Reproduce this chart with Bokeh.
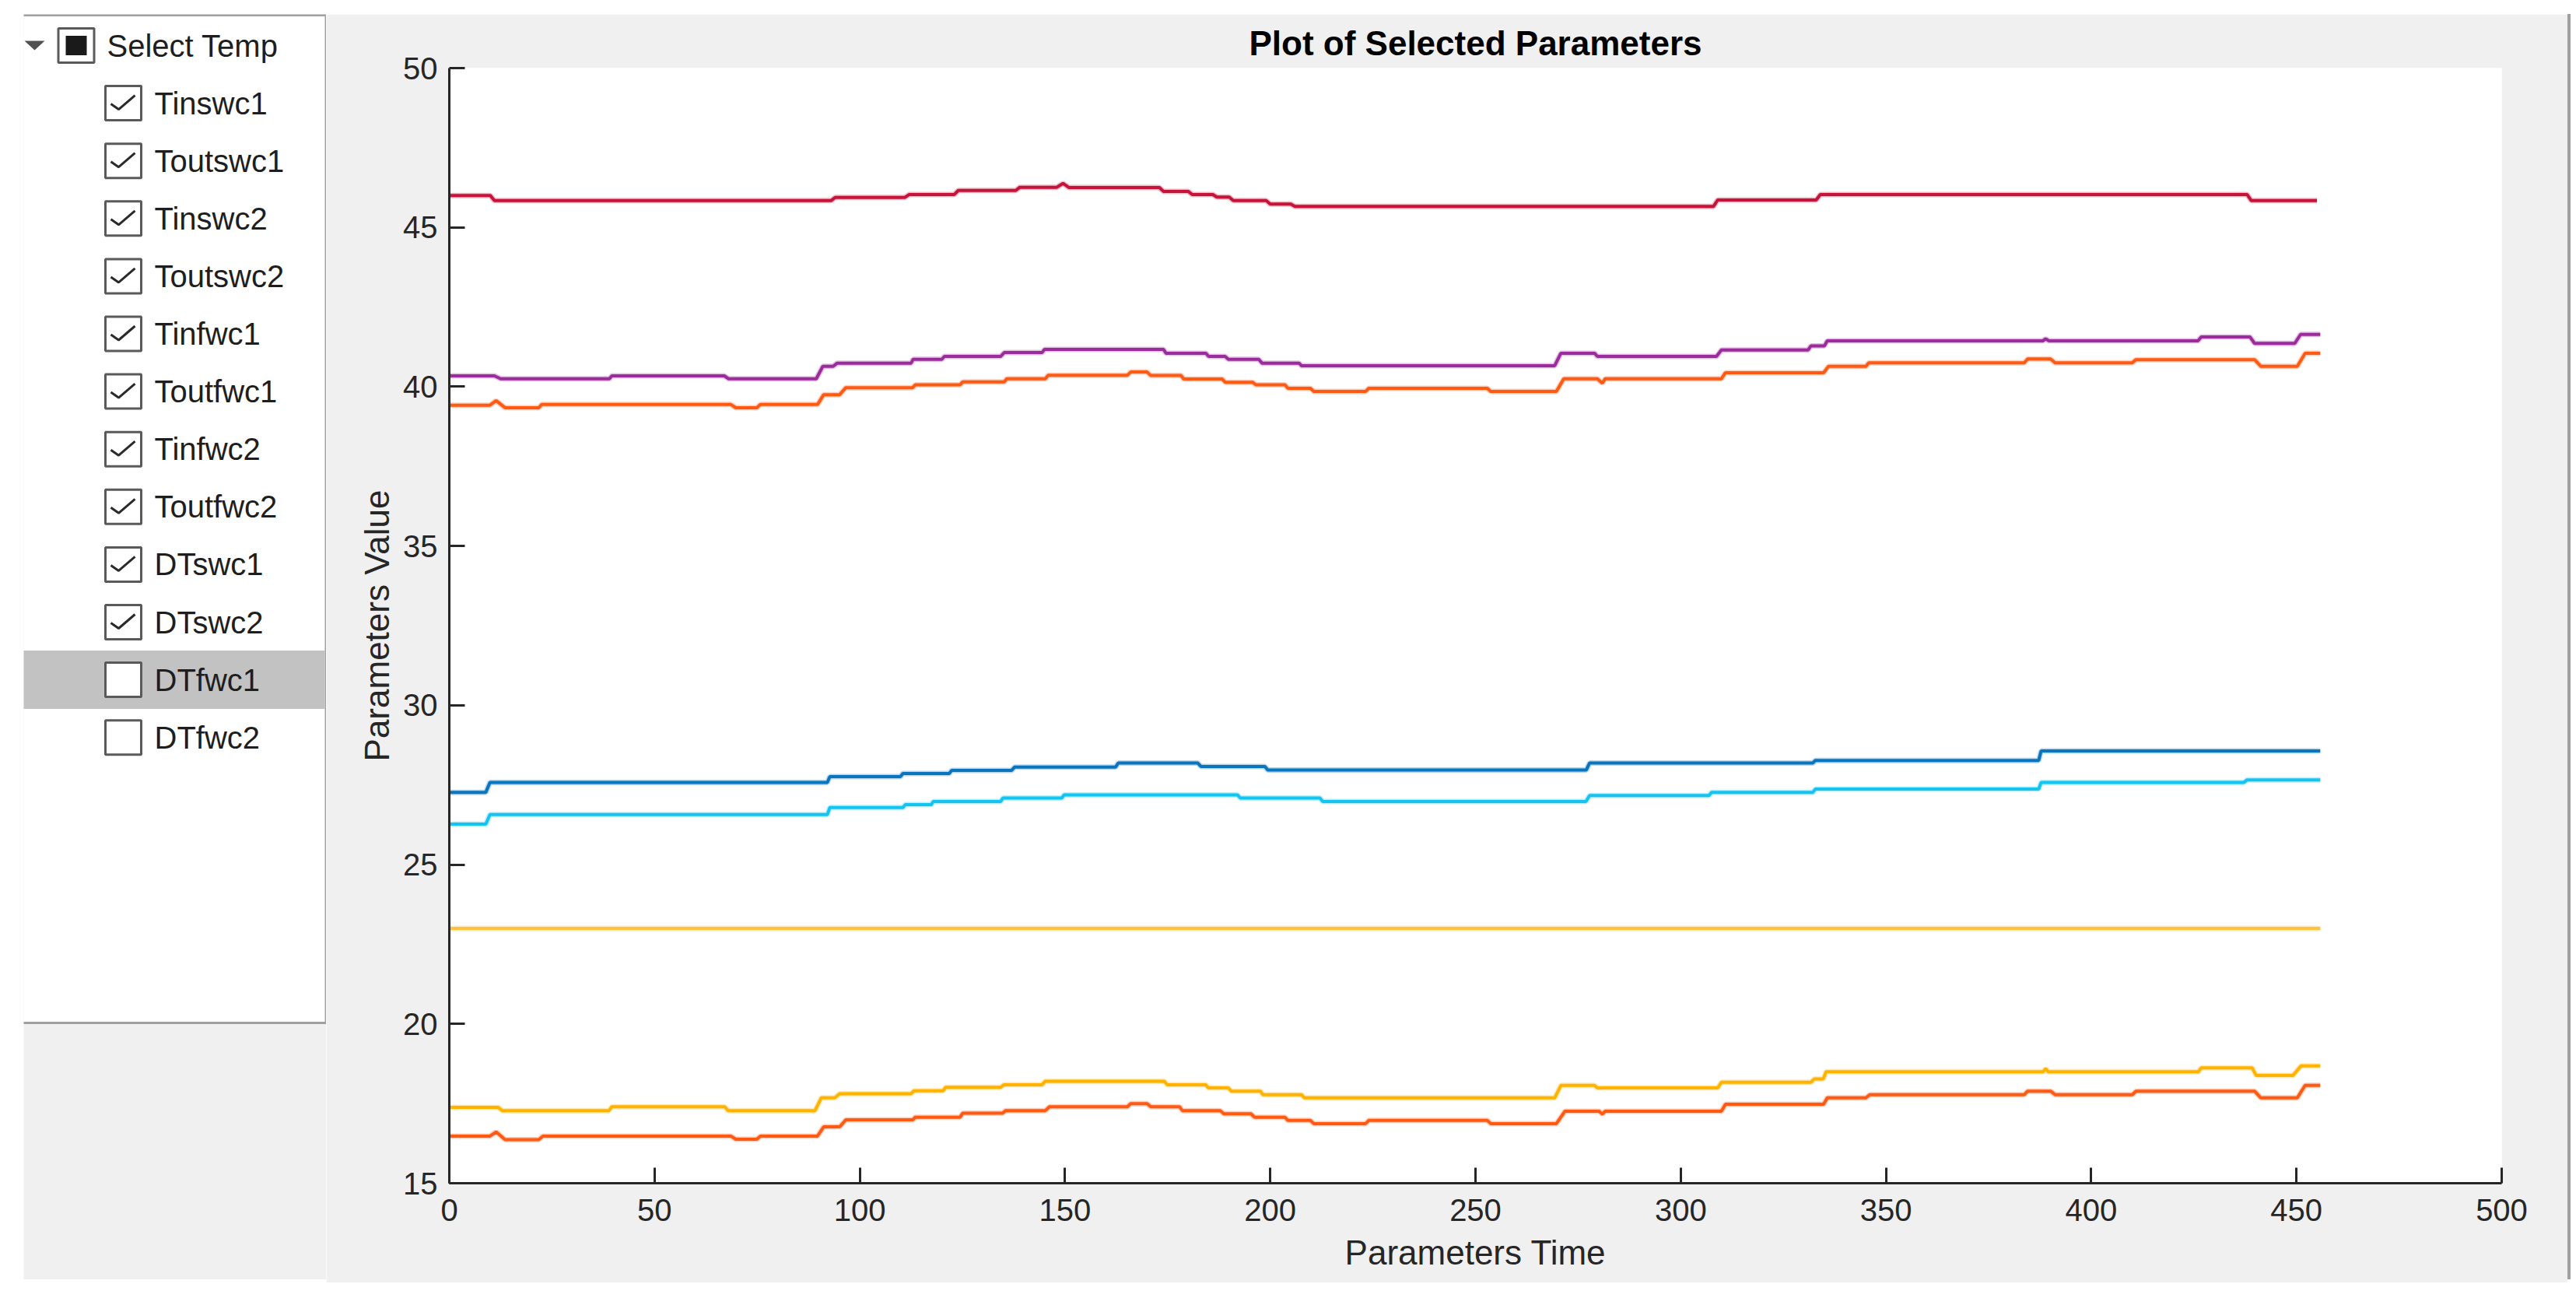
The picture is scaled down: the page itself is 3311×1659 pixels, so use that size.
from bokeh.plotting import figure
from bokeh.models import Range1d, FixedTicker, Spacer
from bokeh.layouts import row, column
from bokeh.embed import file_html
from bokeh.resources import INLINE
from bokeh.core.properties import value

# ---------------- data ----------------
TITLE = "Plot of Selected Parameters"
X_LABEL = "Parameters Time"
Y_LABEL = "Parameters Value"
X_TICKS = [0, 50, 100, 150, 200, 250, 300, 350, 400, 450, 500]
Y_TICKS = [15, 20, 25, 30, 35, 40, 45, 50]

PANEL_HEADER = "Select Temp"
PARAM_NAMES = ["Tinswc1", "Toutswc1", "Tinswc2", "Toutswc2", "Tinfwc1", "Toutfwc1",
               "Tinfwc2", "Toutfwc2", "DTswc1", "DTswc2", "DTfwc1", "DTfwc2"]
PARAM_CHECKED = [True, True, True, True, True, True, True, True, True, True, False, False]
HIGHLIGHTED = "DTfwc1"

X_TINFWC2 = [0, 10, 11, 93, 94, 111, 112, 123, 124, 138, 139, 148, 149.5, 151, 173, 174, 180, 181,
             186, 187, 190, 191, 199, 200, 205, 206, 308, 309, 333, 334, 438, 439, 455]
Y_TINFWC2 = [46.00, 46.00, 45.84, 45.84, 45.94, 45.94, 46.03, 46.03, 46.16, 46.16, 46.26, 46.26,
             46.38, 46.25, 46.25, 46.13, 46.13, 46.03, 46.03, 45.95, 45.95, 45.84, 45.84, 45.73,
             45.73, 45.66, 45.66, 45.86, 45.86, 46.03, 46.03, 45.84, 45.84]

X_TOUTSWC2 = [0, 11, 12.5, 39, 39.6, 67, 68, 89.4, 91, 93.5, 94.5, 112.5, 113, 120, 120.6, 134.3,
              135.2, 144.4, 145, 174, 174.6, 184.3, 185, 189, 189.8, 197.2, 198, 207, 207.6, 269.3,
              270.8, 279, 279.7, 308.7, 309.9, 331, 331.7, 335, 335.7, 388.2, 388.9, 389.7, 426,
              426.8, 438.7, 439.8, 449.6, 451, 455.8]
Y_TOUTSWC2 = [40.34, 40.34, 40.25, 40.25, 40.34, 40.34, 40.25, 40.25, 40.64, 40.64, 40.74, 40.74,
              40.86, 40.86, 40.95, 40.95, 41.07, 41.07, 41.17, 41.17, 41.05, 41.05, 40.95, 40.95,
              40.86, 40.86, 40.74, 40.74, 40.66, 40.66, 41.05, 41.05, 40.95, 40.95, 41.15, 41.15,
              41.28, 41.28, 41.44, 41.44, 41.50, 41.44, 41.44, 41.56, 41.56, 41.36, 41.36, 41.64,
              41.64]

X_TOUTSWC1 = [0, 9.9, 11.4, 13.6, 21.8, 22.5, 68.6, 69.8, 74.9, 75.8, 89.7, 91.2, 95.1, 96.6,
              112.9, 113.5, 124.4, 125.1, 135.2, 135.8, 145.2, 145.9, 165.2, 166, 170, 170.9, 178.3,
              178.9, 188.3, 189, 195.7, 196.5, 203.6, 204.3, 209.8, 210.6, 223.2, 224, 252.9, 253.7,
              269.7, 271.5, 279.7, 280.9, 281.6, 309.9, 310.9, 334.8, 336, 345.1, 345.8, 383.7,
              384.5, 390.1, 391.2, 410, 410.9, 439.8, 441.3, 450.2, 452.1, 455.8]
Y_TOUTSWC1 = [39.42, 39.42, 39.56, 39.34, 39.34, 39.44, 39.44, 39.34, 39.34, 39.44, 39.44, 39.75,
              39.75, 39.97, 39.97, 40.06, 40.06, 40.15, 40.15, 40.25, 40.25, 40.36, 40.36, 40.46,
              40.46, 40.35, 40.35, 40.24, 40.24, 40.14, 40.14, 40.06, 40.06, 39.95, 39.95, 39.85,
              39.85, 39.95, 39.95, 39.85, 39.85, 40.25, 40.25, 40.11, 40.25, 40.25, 40.44, 40.44,
              40.64, 40.64, 40.75, 40.75, 40.87, 40.87, 40.75, 40.75, 40.85, 40.85, 40.64, 40.64,
              41.05, 41.05]

X_TINSWC1 = [0, 8.9, 9.9, 92.1, 92.7, 109.9, 110.5, 121.8, 122.4, 137.0, 137.7, 162.3, 163.0,
             182.3, 183.1, 198.7, 199.4, 277.0, 277.8, 332.2, 332.8, 387.2, 387.8, 455.8]
Y_TINSWC1 = [27.27, 27.27, 27.58, 27.58, 27.76, 27.76, 27.86, 27.86, 27.96, 27.96, 28.06, 28.06,
             28.19, 28.19, 28.08, 28.08, 27.97, 27.97, 28.19, 28.19, 28.27, 28.27, 28.57, 28.57]

X_TOUTFWC1 = [0, 8.9, 9.9, 92.1, 92.7, 110.5, 111.1, 117.4, 117.9, 134.3, 134.9, 149.2, 149.8,
              192.0, 192.7, 212.1, 212.8, 276.9, 277.8, 306.9, 307.5, 332.2, 332.8, 387.2, 387.8,
              437.2, 438.0, 455.8]
Y_TOUTFWC1 = [26.27, 26.27, 26.57, 26.57, 26.79, 26.79, 26.88, 26.88, 26.98, 26.98, 27.09, 27.09,
              27.19, 27.19, 27.09, 27.09, 26.98, 26.98, 27.17, 27.17, 27.27, 27.27, 27.37, 27.37,
              27.58, 27.58, 27.66, 27.66]

X_TINSWC2 = [0, 455.8]
Y_TINSWC2 = [23.0, 23.0]

X_DTSWC2 = [0, 11.9, 12.9, 38.9, 39.6, 67.1, 67.9, 89.1, 90.6, 93.9, 95.1, 112.5, 113.2, 120.3,
            120.9, 134.3, 135.1, 144.4, 145.2, 174.2, 174.9, 184.3, 184.9, 189.8, 190.5, 197.6,
            198.2, 207.6, 208.3, 269.3, 270.8, 279.0, 279.7, 309.0, 309.9, 331.7, 332.5, 334.7,
            335.4, 388.3, 388.9, 389.5, 426.1, 426.8, 439.2, 440.2, 449.1, 451.1, 455.8]
Y_DTSWC2 = [17.38, 17.38, 17.28, 17.28, 17.40, 17.40, 17.28, 17.28, 17.68, 17.68, 17.81, 17.81,
            17.90, 17.90, 18.01, 18.01, 18.09, 18.09, 18.20, 18.20, 18.09, 18.09, 17.99, 17.99,
            17.89, 17.89, 17.78, 17.78, 17.68, 17.68, 18.07, 18.07, 17.99, 17.99, 18.17, 18.17,
            18.27, 18.27, 18.50, 18.50, 18.60, 18.50, 18.50, 18.62, 18.62, 18.38, 18.38, 18.68,
            18.68]

X_DTSWC1 = [0, 9.9, 11.4, 13.6, 21.8, 22.8, 68.6, 69.8, 74.9, 75.8, 89.7, 91.2, 95.1, 96.6,
            112.9, 113.5, 124.4, 125.1, 134.8, 135.5, 145.2, 146.2, 165.2, 166.0, 170.0, 170.9,
            177.9, 178.6, 187.8, 188.7, 195.3, 196.2, 203.6, 204.3, 209.8, 210.6, 223.2, 224.0,
            252.9, 253.7, 269.7, 271.8, 280.1, 280.9, 281.6, 309.9, 310.9, 334.8, 335.7, 345.1,
            346.1, 383.7, 384.5, 390.1, 391.2, 410.0, 410.9, 439.8, 441.3, 450.2, 452.1, 455.8]
Y_DTSWC1 = [16.48, 16.48, 16.61, 16.37, 16.37, 16.48, 16.48, 16.38, 16.38, 16.48, 16.48, 16.77,
            16.77, 16.99, 16.99, 17.07, 17.07, 17.20, 17.20, 17.28, 17.28, 17.40, 17.40, 17.50,
            17.50, 17.40, 17.40, 17.28, 17.28, 17.18, 17.18, 17.07, 17.07, 16.97, 16.97, 16.87,
            16.87, 16.97, 16.97, 16.87, 16.87, 17.26, 17.26, 17.17, 17.26, 17.26, 17.48, 17.48,
            17.68, 17.68, 17.78, 17.78, 17.89, 17.89, 17.78, 17.78, 17.89, 17.89, 17.68, 17.68,
            18.07, 18.07]

SERIES = [
    ("Tinswc1", X_TINSWC1, Y_TINSWC1, "#0a74bd"),
    ("Toutswc1", X_TOUTSWC1, Y_TOUTSWC1, "#ff5a14"),
    ("Tinswc2", X_TINSWC2, Y_TINSWC2, "#ffc23e"),
    ("Toutswc2", X_TOUTSWC2, Y_TOUTSWC2, "#9b2c9b"),
    ("Toutfwc1", X_TOUTFWC1, Y_TOUTFWC1, "#14c3f0"),
    ("Tinfwc2", X_TINFWC2, Y_TINFWC2, "#c4143a"),
    ("DTswc1", X_DTSWC1, Y_DTSWC1, "#ff5a14"),
    ("DTswc2", X_DTSWC2, Y_DTSWC2, "#ffb300"),
]

# ---------------- styles ----------------
FIG_BG = "#f0f0f0"
AX_COLOR = "#262626"
FONT = "Liberation Sans"

# ---------------- left list panel ----------------
PW, PH = 389, 1626
p0 = figure(width=PW, height=PH, x_range=Range1d(0, PW), y_range=Range1d(PH, 0),
            toolbar_location=None, output_backend="svg",
            x_axis_location=None, y_axis_location=None, min_border=0)
p0.background_fill_color = FIG_BG
p0.border_fill_color = FIG_BG
p0.outline_line_color = None
p0.xgrid.visible = False
p0.ygrid.visible = False

ROW0, ROW_H = 40, 74.1
row_y = [ROW0 + ROW_H * i for i in range(len(PARAM_NAMES) + 1)]

p0.quad(left=[-5], right=[388.5], top=[1], bottom=[1296], fill_color="white",
        line_color="#a0a0a0", line_width=3)
hi = 1 + PARAM_NAMES.index(HIGHLIGHTED)
p0.quad(left=[-5], right=[387], top=[row_y[hi] - 37.5], bottom=[row_y[hi] + 37.5],
        fill_color="#c2c2c2", line_color=None)

# expand triangle
p0.patch(x=[1, 27, 14], y=[row_y[0] - 6, row_y[0] - 6, row_y[0] + 6], fill_color="#505050",
         line_color=None)
# header tri-state box
p0.rect(x=[67.5], y=[row_y[0]], width=46, height=44, fill_color="white",
        line_color="#5a5a5a", line_width=3)
p0.rect(x=[67.5], y=[row_y[0]], width=27, height=25, fill_color="#1a1a1a", line_color=None)
p0.text(x=[107], y=[row_y[0]], text=[PANEL_HEADER], text_baseline="middle", text_align="left",
        text_font=value(FONT), text_font_size=value("40px"), text_color="#1e1e1e")

# item boxes
BX = 128
item_y = row_y[1:]
p0.rect(x=[BX] * len(item_y), y=item_y, width=46, height=44, fill_color="white",
        line_color="#5a5a5a", line_width=3)
ck_xs, ck_ys = [], []
for yy, chk in zip(item_y, PARAM_CHECKED):
    if chk:
        ck_xs.append([BX - 16, BX - 6, BX + 15])
        ck_ys.append([yy + 1, yy + 8, yy - 10])
p0.multi_line(xs=ck_xs, ys=ck_ys, line_color="#2a2a2a", line_width=3)
p0.text(x=[168] * len(item_y), y=item_y, text=PARAM_NAMES, text_baseline="middle",
        text_align="left", text_font=value(FONT), text_font_size=value("40px"),
        text_color="#1e1e1e")

# ---------------- main plot ----------------
p = figure(frame_width=2638, frame_height=1433, x_range=Range1d(0, 500), y_range=Range1d(15, 50),
           toolbar_location=None, output_backend="svg", title=TITLE,
           min_border_left=158, min_border_right=85, min_border_top=69, min_border_bottom=128)
p.background_fill_color = "white"
p.border_fill_color = FIG_BG
p.outline_line_color = None
p.xgrid.visible = False
p.ygrid.visible = False

p.title.align = "center"
p.title.text_font = FONT
p.title.text_font_size = "44px"
p.title.text_font_style = "bold"
p.title.text_color = "#000000"
p.title.standoff = 16

for name, xs, ys, col in SERIES:
    p.line(xs, ys, line_color=col, line_width=7, line_alpha=0.3)
    p.line(xs, ys, line_color=col, line_width=4)

p.xaxis.ticker = FixedTicker(ticks=X_TICKS)
p.yaxis.ticker = FixedTicker(ticks=Y_TICKS)
p.xaxis.axis_label = X_LABEL
p.yaxis.axis_label = Y_LABEL
for ax in (p.xaxis, p.yaxis):
    ax.axis_line_color = AX_COLOR
    ax.axis_line_width = 3
    ax.major_tick_line_color = AX_COLOR
    ax.major_tick_line_width = 3
    ax.major_tick_in = 20
    ax.major_tick_out = 0
    ax.minor_tick_line_color = None
    ax.major_label_text_font = FONT
    ax.major_label_text_font_size = "40px"
    ax.major_label_text_color = AX_COLOR
    ax.axis_label_text_font = FONT
    ax.axis_label_text_font_size = "44px"
    ax.axis_label_text_font_style = "normal"
    ax.axis_label_text_color = AX_COLOR
p.xaxis.major_label_standoff = 20
p.xaxis.axis_label_standoff = 13
p.yaxis.major_label_standoff = 15
p.yaxis.axis_label_standoff = 6

edge = Spacer(width=4, height=1626, styles={"background-color": "#a0a0a0"})
layout = column(Spacer(height=18), row(Spacer(width=30), column(p0), column(p), edge))

open("out.html", "w").write(file_html(layout, INLINE, TITLE))
